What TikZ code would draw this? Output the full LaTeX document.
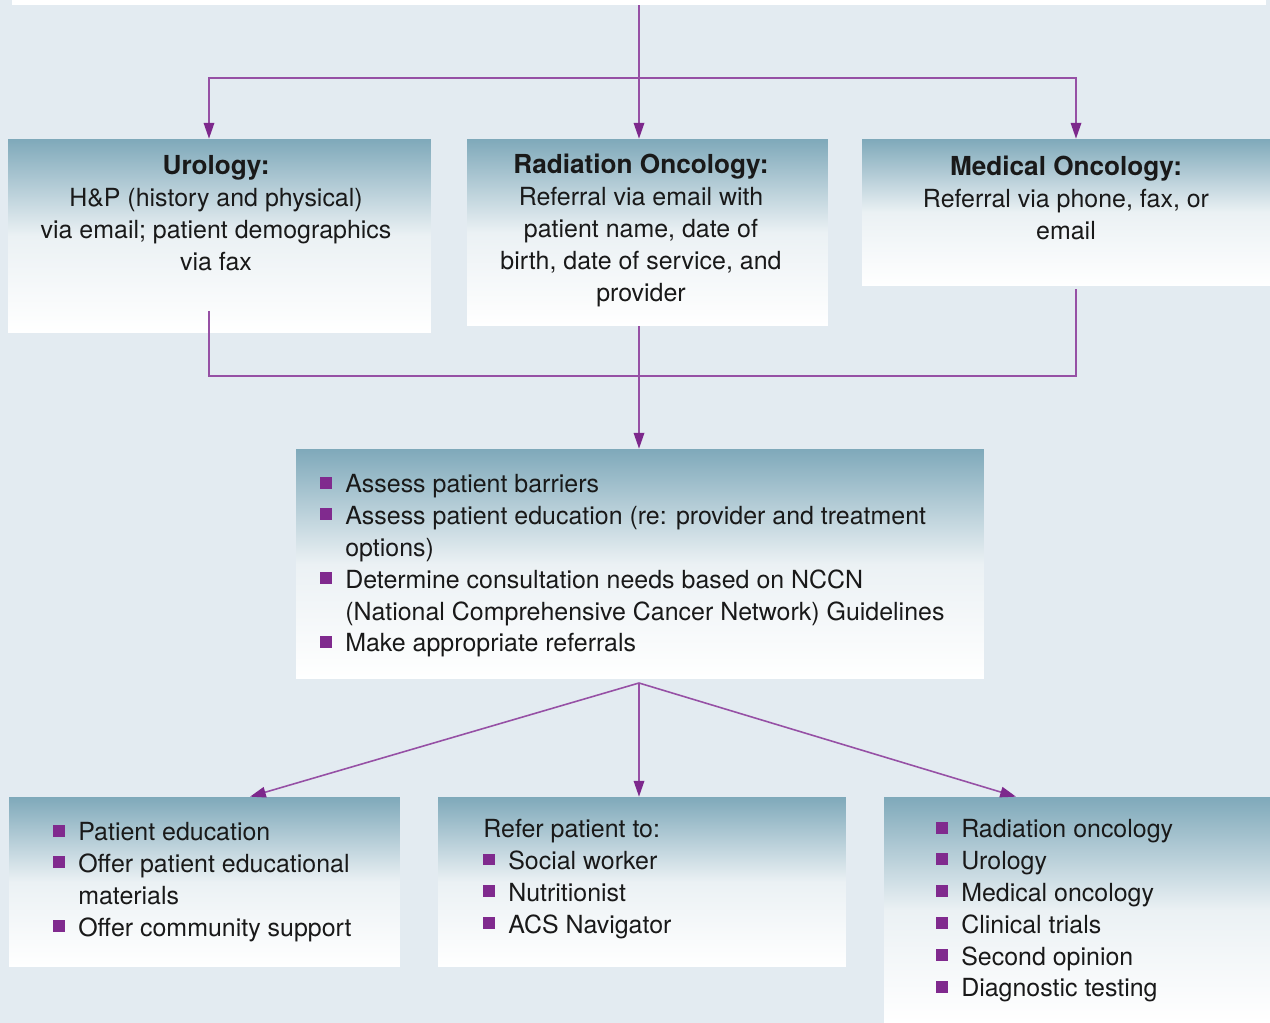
\documentclass[tikz,border=0pt]{standalone}
\usepackage{fontspec}
\setmainfont{TeX Gyre Heros}
\usepackage{xcolor}
\usetikzlibrary{arrows.meta,positioning}

\definecolor{pagebg}{RGB}{227,235,241}
\definecolor{boxtop}{RGB}{127,169,186}
\definecolor{boxmid}{RGB}{235,241,244}
\definecolor{linkpurple}{RGB}{150,80,165}
\definecolor{tippurple}{RGB}{125,40,140}
\definecolor{bulpurple}{RGB}{128,42,142}
\definecolor{inkgrey}{RGB}{25,25,25}

\newcommand\sq{\makebox[14.2pt][l]{\textcolor{bulpurple}{\raisebox{2.3pt}{\rule{6.8pt}{6.8pt}}}}}
\newcommand\ind{\hspace*{14.2pt}}
\newcommand\ttl[1]{{\fontsize{14.9}{18.14}\selectfont\bfseries #1}}

\tikzset{
  box/.style={rectangle, inner sep=0pt, top color=boxtop, bottom color=white, middle color=boxmid},
  words/.style={inner sep=0pt, text=inkgrey, font=\fontsize{14.2}{18.14}\selectfont},
  link/.style={draw=linkpurple, line width=0.9pt},
  arr/.style={link, -{Triangle[length=9pt, width=6pt, color=tippurple]}}
}

\begin{document}
\begin{tikzpicture}[x=0.02cm, y=-0.02cm]

  % page
  \useasboundingbox (0,0) rectangle (1270,1023);
  \fill[pagebg] (0,0) rectangle (1270,1023);

  % boxes (sizes in px: 1px = 0.02cm)
  \node[fill=white, inner sep=0pt, minimum width=25.08cm, minimum height=0.5cm] (top) at (639,-7.5) {};
  \node[box, minimum width=8.46cm, minimum height=3.88cm] (uro) at (219.5,236) {};
  \node[box, minimum width=7.22cm, minimum height=3.74cm] (rad) at (647.5,232.5) {};
  \node[box, minimum width=8.16cm, minimum height=2.94cm] (med) at (1066,212.5) {};
  \node[box, minimum width=13.76cm, minimum height=4.6cm] (assess) at (640,564) {};
  \node[box, minimum width=7.82cm, minimum height=3.4cm] (edu) at (204.5,882) {};
  \node[box, minimum width=8.16cm, minimum height=3.4cm] (refer) at (642,882) {};
  \node[box, minimum width=7.72cm, minimum height=4.52cm] (spec) at (1077,910) {};

  % texts
  \node[words, anchor=north, align=center] (urotext) at (216,155)
    {\ttl{Urology:}\\H\&P (history and physical)\\via email; patient demographics\\via fax};
  \node[words, anchor=north, align=center] (radtext) at (641,154)
    {\ttl{Radiation Oncology:}\\Referral via email with\\patient name, date of\\birth, date of service, and\\provider};
  \node[words, anchor=north, align=center] (medtext) at (1066,156)
    {\ttl{Medical Oncology:}\\Referral via phone, fax, or\\email};
  \node[words, anchor=north west, align=left] (assesstext) at (320,474)
    {\sq Assess patient barriers\\
     \sq Assess patient education (re: provider and treatment\\
     \ind options)\\
     \sq Determine consultation needs based on NCCN\\
     \ind (National Comprehensive Cancer Network) Guidelines\\
     \sq Make appropriate referrals};
  \node[words, anchor=north west, align=left] (edutext) at (53,822)
    {\sq Patient education\\
     \sq Offer patient educational\\
     \ind materials\\
     \sq Offer community support};
  \node[words, anchor=north west, align=left] (refertext) at (483,819)
    {Refer patient to:\\
     \sq Social worker\\
     \sq Nutritionist\\
     \sq ACS Navigator};
  \node[words, anchor=north west, align=left] (spectext) at (936,819)
    {\sq Radiation oncology\\
     \sq Urology\\
     \sq Medical oncology\\
     \sq Clinical trials\\
     \sq Second opinion\\
     \sq Diagnostic testing};

  % split to the three departments
  \coordinate (split) at (639,78);
  \draw[link] (top.south) -- (split);
  \foreach \b/\x in {uro/209, rad/639, med/1076}
    \draw[arr] (split) -| (\x,0 |- \b.north);

  % back together
  \coordinate (urofoot) at (209,311);
  \coordinate (medfoot) at (1076,289);
  \coordinate (join) at (639,376);
  \draw[link] (urofoot) |- (join) -| (medfoot);
  \draw[arr] (split |- rad.south) -- (split |- assess.north);

  % fan out
  \coordinate (fork) at (639,683);
  \foreach \b/\x in {edu/250, refer/639, spec/1016}
    \draw[arr] (fork) -- (\x,0 |- \b.north);

\end{tikzpicture}
\end{document}
